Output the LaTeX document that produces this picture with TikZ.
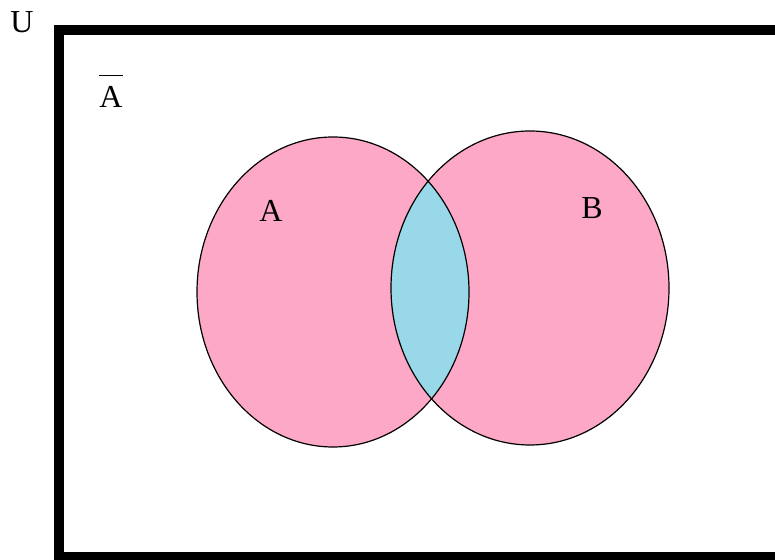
\documentclass[tikz,border=0pt]{standalone}
\usepackage{fontspec}
\setmainfont{Liberation Serif}
\usetikzlibrary{positioning}
\definecolor{setpink}{RGB}{253,168,198}
\definecolor{setblue}{RGB}{152,216,232}

\begin{document}
\begin{tikzpicture}[x=0.5pt, y=0.5pt,
  setfill/.style={fill=setpink},
  setline/.style={draw=black, line width=0.6pt},
  lbl/.style={font=\fontsize{16}{19}\selectfont, inner sep=0pt, anchor=base}
]
\useasboundingbox (0,0) rectangle (775,560);
\clip (0,0) rectangle (775,560);

% universe
\draw[line width=5pt] (59,3) rectangle (820,530);

\coordinate (cA) at (333,268);
\coordinate (cB) at (530,272);

% the two sets
\fill[setfill] (cA) ellipse [x radius=136, y radius=155];
\fill[setfill] (cB) ellipse [x radius=139, y radius=157];
\begin{scope}
  \clip (cA) ellipse [x radius=136, y radius=155];
  \fill[setblue] (cB) ellipse [x radius=139, y radius=157];
\end{scope}
\draw[setline] (cA) ellipse [x radius=136, y radius=155];
\draw[setline] (cB) ellipse [x radius=139, y radius=157];

\node[lbl] (labU)    at (22,527)  {U};
\node[lbl] (labAbar) at (111,452) {$\overline{\mbox{A}\rule{0pt}{15pt}}$};
\node[lbl] (labA)    at (271,338) {A};
\node[lbl] (labB)    at (592,341) {B};
\end{tikzpicture}
\end{document}
